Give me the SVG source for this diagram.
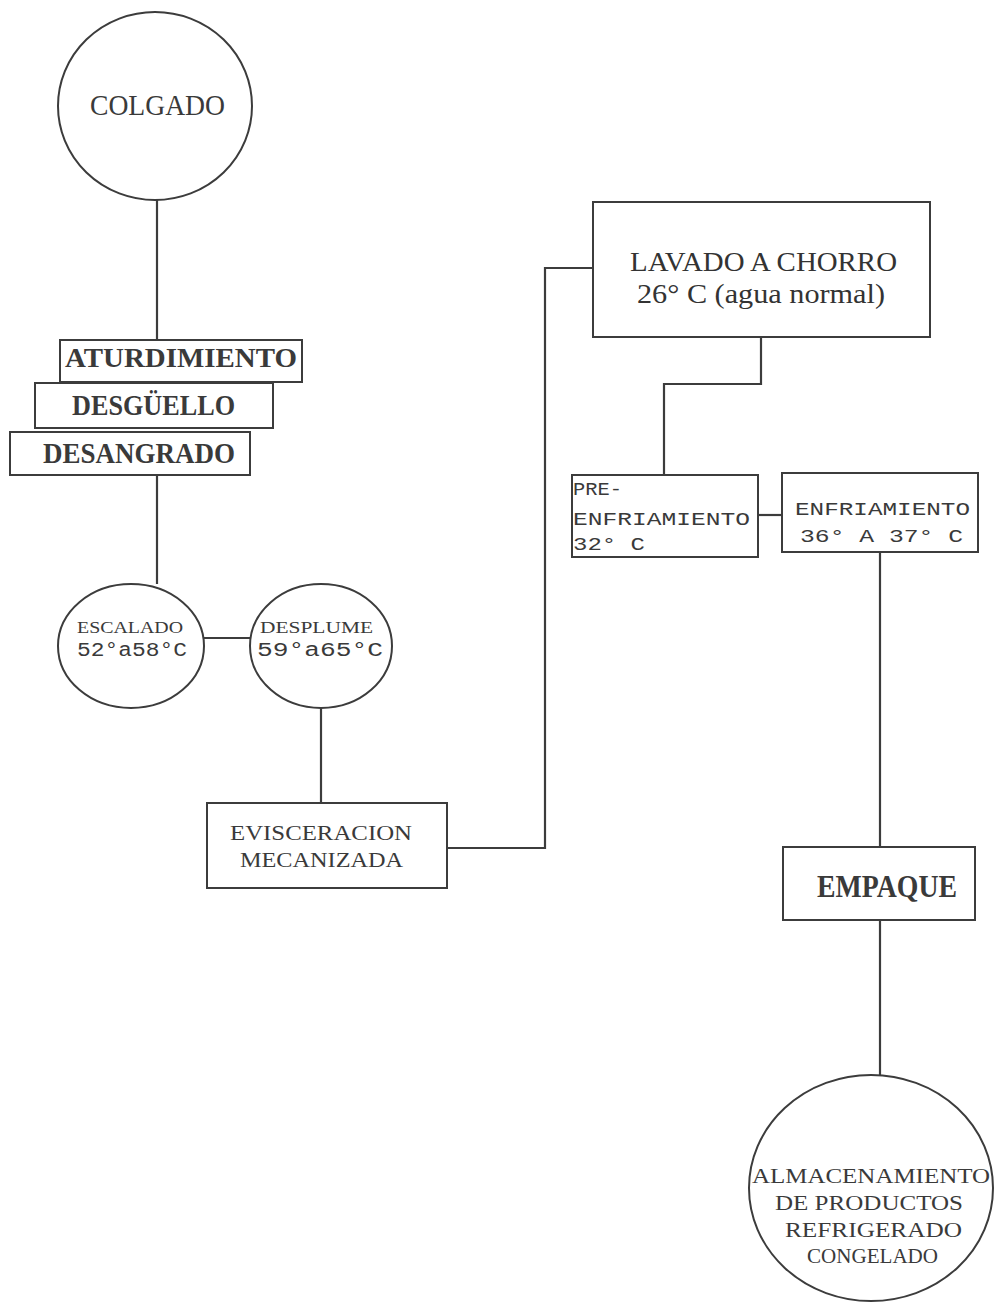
<svg xmlns="http://www.w3.org/2000/svg" width="994" height="1303" viewBox="0 0 994 1303">
  <defs>
    <style>
      .shape { fill: none; stroke: #3c3c3c; stroke-width: 2; }
      .link { fill: none; stroke: #3c3c3c; stroke-width: 2.2; }
      .mono { font-family: "Liberation Mono", "DejaVu Sans Mono", monospace; fill: #3a3a3a; }
      .slab { font-family: "Liberation Serif", "DejaVu Serif", serif; fill: #3a3a3a; }
      .bold { font-weight: bold; }
      .serif { font-family: "Liberation Serif", "DejaVu Serif", serif; fill: #333; }
    </style>
  </defs>
  <rect width="994" height="1303" fill="#ffffff"/>

  <!-- connectors -->
  <g id="connectors">
    <line class="link" x1="157" y1="200" x2="157" y2="340"/>
    <line class="link" x1="157" y1="475" x2="157" y2="584"/>
    <line class="link" x1="204" y1="638" x2="251" y2="638"/>
    <line class="link" x1="321" y1="708" x2="321" y2="803"/>
    <polyline class="link" points="447,848 545,848 545,268 593,268"/>
    <polyline class="link" points="761,337 761,384 664,384 664,475"/>
    <line class="link" x1="758" y1="515" x2="782" y2="515"/>
    <line class="link" x1="880" y1="552" x2="880" y2="847"/>
    <line class="link" x1="880" y1="920" x2="880" y2="1075"/>
  </g>

  <g id="colgado">
    <ellipse class="shape" cx="155" cy="106" rx="97" ry="94"/>
    <text class="slab" x="90" y="115" font-size="30" textLength="135" lengthAdjust="spacingAndGlyphs">COLGADO</text>
  </g>

  <g id="aturdimiento">
    <rect class="shape" x="60" y="340" width="242" height="42"/>
    <text class="slab bold" x="65" y="367" font-size="28" textLength="232" lengthAdjust="spacingAndGlyphs">ATURDIMIENTO</text>
  </g>

  <g id="desguello">
    <rect class="shape" x="35" y="383" width="238" height="45"/>
    <text class="slab bold" x="72" y="415" font-size="29" textLength="163" lengthAdjust="spacingAndGlyphs">DESGÜELLO</text>
  </g>

  <g id="desangrado">
    <rect class="shape" x="10" y="432" width="240" height="43"/>
    <text class="slab bold" x="43" y="463" font-size="29" textLength="192" lengthAdjust="spacingAndGlyphs">DESANGRADO</text>
  </g>

  <g id="escalado">
    <ellipse class="shape" cx="131" cy="646" rx="73" ry="62"/>
    <text class="slab" x="77" y="633" font-size="17" textLength="106" lengthAdjust="spacingAndGlyphs">ESCALADO</text>
    <text class="mono" x="77" y="656" font-size="20" textLength="110" lengthAdjust="spacingAndGlyphs">52°a58°C</text>
  </g>

  <g id="desplume">
    <ellipse class="shape" cx="321" cy="646" rx="71" ry="62"/>
    <text class="slab" x="260" y="633" font-size="17" textLength="113" lengthAdjust="spacingAndGlyphs">DESPLUME</text>
    <text class="mono" x="257" y="656" font-size="20" textLength="126" lengthAdjust="spacingAndGlyphs">59°a65°C</text>
  </g>

  <g id="evisceracion">
    <rect class="shape" x="207" y="803" width="240" height="85"/>
    <text class="slab" x="230" y="840" font-size="22" textLength="182" lengthAdjust="spacingAndGlyphs">EVISCERACION</text>
    <text class="slab" x="240" y="867" font-size="20" textLength="163" lengthAdjust="spacingAndGlyphs">MECANIZADA</text>
  </g>

  <g id="lavado">
    <rect class="shape" x="593" y="202" width="337" height="135"/>
    <text class="serif" x="630" y="271" font-size="27" textLength="267" lengthAdjust="spacingAndGlyphs">LAVADO A CHORRO</text>
    <text class="serif" x="637" y="303" font-size="27" textLength="248" lengthAdjust="spacingAndGlyphs">26° C (agua normal)</text>
  </g>

  <g id="pre-enfriamiento">
    <rect class="shape" x="572" y="475" width="186" height="82"/>
    <text class="mono" x="573" y="495" font-size="19" textLength="49" lengthAdjust="spacingAndGlyphs">PRE-</text>
    <text class="mono" x="573" y="525" font-size="19" textLength="177" lengthAdjust="spacingAndGlyphs">ENFRIAMIENTO</text>
    <text class="mono" x="573" y="550" font-size="19" textLength="72" lengthAdjust="spacingAndGlyphs">32° C</text>
  </g>

  <g id="enfriamiento">
    <rect class="shape" x="782" y="473" width="196" height="79"/>
    <text class="mono" x="795" y="515" font-size="19" textLength="175" lengthAdjust="spacingAndGlyphs">ENFRIAMIENTO</text>
    <text class="mono" x="800" y="542" font-size="19" textLength="163" lengthAdjust="spacingAndGlyphs">36° A 37° C</text>
  </g>

  <g id="empaque">
    <rect class="shape" x="783" y="847" width="192" height="73"/>
    <text class="slab bold" x="817" y="897" font-size="32" textLength="140" lengthAdjust="spacingAndGlyphs">EMPAQUE</text>
  </g>

  <g id="almacenamiento">
    <ellipse class="shape" cx="871" cy="1188" rx="122" ry="113"/>
    <text class="slab" x="752" y="1183" font-size="21" textLength="238" lengthAdjust="spacingAndGlyphs">ALMACENAMIENTO</text>
    <text class="slab" x="775" y="1210" font-size="21" textLength="188" lengthAdjust="spacingAndGlyphs">DE PRODUCTOS</text>
    <text class="slab" x="785" y="1237" font-size="21" textLength="177" lengthAdjust="spacingAndGlyphs">REFRIGERADO</text>
    <text class="slab" x="807" y="1263" font-size="21" textLength="131" lengthAdjust="spacingAndGlyphs">CONGELADO</text>
  </g>
</svg>
